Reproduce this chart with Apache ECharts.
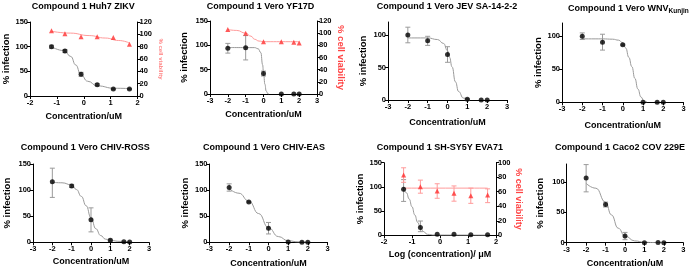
<!DOCTYPE html>
<html><head><meta charset="utf-8">
<script src="https://cdn.jsdelivr.net/npm/echarts@6/dist/echarts.min.js"></script>
<style>html,body{margin:0;padding:0;background:#fff}#c{width:696px;height:269px}</style>
</head><body><div id="c"></div>
<script>
// ---------------- DATA ----------------
const titles = ['Compound 1 Huh7 ZIKV', 'Compound 1 Vero YF17D', 'Compound 1 Vero JEV SA-14-2-2',
  'Compound 1 Vero WNV{s|Kunjin}', 'Compound 1 Vero CHIV-ROSS', 'Compound 1 Vero CHIV-EAS',
  'Compound 1 SH-SY5Y EVA71', 'Compound 1 Caco2 COV 229E'];
const xNames = ['Concentration/uM', 'Concentration/uM', 'Concentration/uM', 'Concentration/uM',
  'Concentration/uM', 'Concentration/uM', 'Log (concentration)/ \u03bcM', 'Concentration/uM'];
const yName = '% infection';
const rightName = '% cell viability';
const leftTicks150 = [0, 50, 100, 150];
const leftTicks100 = [0, 50, 100];

// log10 concentrations
const concA = [-1.2, -0.7, -0.1, 0.5, 1.1, 1.7];
const concB = [-2, -1, 0, 1, 1.7, 2];
const concC = [-1.3, -0.7, -0.1, 0.5, 1.1, 1.7];

// Panel 1 Huh7 ZIKV
const p1Inf = [100, 91, 44, 23, 14, 14];
const p1InfLo = [97, 88, 40, 21, 13, 13];
const p1InfHi = [103, 94, 48, 25, 15, 15];
const p1InfFit = [[-1.2, 100], [-0.73, 92], [-0.48, 80], [-0.3, 63], [-0.11, 44], [0.14, 30], [0.51, 20.5], [1.13, 15.7], [1.75, 15]];
const p1Via = [106, 101, 96, 96, 95, 84];
const p1ViaFit = [[-1.2, 105], [-0.5, 102], [0.2, 98], [0.8, 94], [1.3, 90], [1.7, 86]];

// Panel 2 Vero YF17D
const p2Inf = [94, 95, 42, 0, 0, 0];
const p2InfLo = [84, 70, 37, null, null, null];
const p2InfHi = [104, 120, 47, null, null, null];
const p2InfFit = [[-2, 95.5], [-0.5, 95.3], [-0.3, 93], [-0.15, 85], [-0.05, 60], [0, 44], [0.08, 20], [0.15, 6], [0.25, 0.5], [0.3, 0]];
const p2Via = [106, 100, 86, 86, 85, 84];
const p2ViaFit = [[-2, 106], [-1.5, 104.5], [-1, 100], [-0.7, 95], [-0.5, 90], [-0.25, 87], [0, 86], [2, 86]];

// Panel 3 Vero JEV SA-14-2-2
const p3Inf = [100, 91, 70, 1, 0, 0];
const p3InfLo = [88, 84, 58, 0, null, null];
const p3InfHi = [112, 98, 82, 2, null, null];
const p3InfFit = [[-2, 95.5], [-1, 95.5], [-0.5, 93], [-0.2, 87], [0, 76], [0.1, 66], [0.23, 51], [0.4, 28], [0.56, 13], [0.8, 3], [1.1, 0.3]];

// Panel 4 Vero WNV Kunjin
const p4Inf = [100, 91, 87, 0, 0, 0];
const p4InfLo = [95, 79, 86, null, null, null];
const p4InfHi = [105, 103, 88, null, null, null];
const p4InfFit = [[-2, 96], [-1, 96], [-0.5, 95.5], [-0.2, 94], [0, 90], [0.15, 82], [0.3, 68], [0.45, 54], [0.6, 36], [0.75, 20], [0.9, 8], [1.05, 2], [1.2, 0.3]];

// Panel 5 Vero CHIV-ROSS
const p5Inf = [116, 108, 43, 4, 1, 0.5];
const p5InfLo = [86, 105, 20, 2, null, null];
const p5InfHi = [142, 111, 66, 6, null, null];
const p5InfFit = [[-2, 115], [-1.5, 114], [-1, 110], [-0.75, 101], [-0.5, 88], [-0.25, 70], [0, 47], [0.25, 26], [0.5, 13], [0.75, 6], [1, 3.5], [1.5, 1.8], [2, 1.3]];

// Panel 6 Vero CHIV-EAS
const p6Inf = [105, 77, 27, 0.5, 0, 0];
const p6InfLo = [98, 76, 16, null, null, null];
const p6InfHi = [112, 78, 38, null, null, null];
const p6InfFit = [[-2, 103], [-1.5, 94], [-1, 79], [-0.5, 55], [0, 28], [0.5, 11], [1, 3], [1.5, 0.8], [2, 0.2]];

// Panel 7 SH-SY5Y EVA71
const p7Inf = [95, 16, 2, 2, 1, 1];
const p7InfLo = [70, 7.5, null, null, null, null];
const p7InfHi = [115, 29.5, null, null, null, null];
const p7InfFit = [[-1.3, 95], [-1.2, 88], [-1.1, 75], [-1, 59], [-0.9, 42], [-0.8, 27], [-0.7, 16], [-0.6, 8], [-0.45, 2], [-0.2, 0.5], [1.7, 0.3]];
const p7Via = [83, 67, 61, 58, 54.5, 55.5];
const p7ViaLo = [73, 58, 51, 47, 44, 45];
const p7ViaHi = [93, 76, 71, 68, 65, 64];
const p7ViaFit = [[-1.3, 65], [1.7, 65]];

// Panel 8 Caco2 COV 229E
const p8Inf = [107, 63, 11, 0, 0.5, 0];
const p8InfLo = [84, 59, 5, null, null, null];
const p8InfHi = [129, 67, 17, null, null, null];
const p8InfFit = [[-2, 98], [-1.5, 90], [-1, 67], [-0.7, 46], [-0.35, 24], [0, 11], [0.5, 3], [1, 0.8], [1.5, 0.2], [2, 0.1]];

// ---------------- LAYOUT / STYLE ----------------
const FONT = '"Liberation Sans", Arial, sans-serif';
const panels = [
  {conc: concA, inf: p1Inf, lo: p1InfLo, hi: p1InfHi, fit: p1InfFit, via: p1Via, viaFit: p1ViaFit,
   grid: [30, 22, 107.5, 74], x: [-2, 2], yMax: 150, rMax: 120, t: [31.7, 2.5], xg: 16, yg: 19, rg: 20, rSize: 6, rColor: 'rgba(255,90,90,0.75)'},
  {conc: concB, inf: p2Inf, lo: p2InfLo, hi: p2InfHi, fit: p2InfFit, via: p2Via, viaFit: p2ViaFit,
   grid: [210, 21, 107, 73], x: [-3, 3], yMax: 150, rMax: 120, t: [206.7, 2.5], xg: 16.5, yg: 21, rg: 17, rSize: 9.5, rColor: '#ff4444'},
  {conc: concB, inf: p3Inf, lo: p3InfLo, hi: p3InfHi, fit: p3InfFit,
   grid: [388, 22, 119, 78], x: [-3, 3], yMax: 120, t: [376.7, 2.5], xg: 18.5, yg: 19.5},
  {conc: concB, inf: p4Inf, lo: p4InfLo, hi: p4InfHi, fit: p4InfFit,
   grid: [562, 23, 121.5, 79.3], x: [-3, 3], yMax: 120, t: [568, 2.5], xg: 19, yg: 15.5},
  {conc: concB, inf: p5Inf, lo: p5InfLo, hi: p5InfHi, fit: p5InfFit,
   grid: [33, 164, 116, 78.3], x: [-3, 3], yMax: 150, t: [20.7, 143], xg: 15, yg: 21},
  {conc: concB, inf: p6Inf, lo: p6InfLo, hi: p6InfHi, fit: p6InfFit,
   grid: [209.5, 164, 118, 78.3], x: [-3, 3], yMax: 150, t: [203, 143], xg: 16.5, yg: 19.5},
  {conc: concC, inf: p7Inf, lo: p7InfLo, hi: p7InfHi, fit: p7InfFit, via: p7Via, viaLo: p7ViaLo, viaHi: p7ViaHi, viaFit: p7ViaFit,
   grid: [384, 162.7, 112, 72.6], x: [-2, 2], yMax: 150, rMax: 100, t: [376.7, 143], xg: 15, yg: 17.5, rg: 18, rSize: 9, rColor: '#ff4444'},
  {conc: concB, inf: p8Inf, lo: p8InfLo, hi: p8InfHi, fit: p8InfFit,
   grid: [566.7, 164, 116.6, 78.7], x: [-3, 3], yMax: 130, t: [555, 143], xg: 16, yg: 21.5}
];

const RED = '#ff2f2f', RED_LINE = '#ff9a9a', GREY = '#9a9a9a';

function errSeries(xs, lo, hi, xi, yi, color) {
  const data = [];
  xs.forEach((x, i) => { if (lo[i] != null && hi[i] != null) data.push([x, lo[i], hi[i]]); });
  return {
    type: 'custom', coordinateSystem: 'cartesian2d', xAxisIndex: xi, yAxisIndex: yi, z: 2, silent: true,
    encode: {x: 0, y: [1, 2]}, data,
    renderItem: function (params, api) {
      const x = api.value(0);
      const a = api.coord([x, api.value(1)]), b = api.coord([x, api.value(2)]);
      const st = {stroke: color, lineWidth: 1};
      const c = 2.5;
      return {type: 'group', children: [
        {type: 'line', shape: {x1: a[0], y1: a[1], x2: b[0], y2: b[1]}, style: st},
        {type: 'line', shape: {x1: a[0] - c, y1: a[1], x2: a[0] + c, y2: a[1]}, style: st},
        {type: 'line', shape: {x1: b[0] - c, y1: b[1], x2: b[0] + c, y2: b[1]}, style: st}
      ]};
    }
  };
}

const grids = [], xAxes = [], yAxes = [], series = [], titleList = [];
const axisLine = {show: true, onZero: false, lineStyle: {color: '#000', width: 1}};
const axisTick = {show: true, length: 3, lineStyle: {color: '#000', width: 1}};
const tickLabel = {fontSize: 7.5, fontWeight: 'bold', color: '#000', fontFamily: FONT};

panels.forEach((p, i) => {
  grids.push({left: p.grid[0], top: p.grid[1], width: p.grid[2], height: p.grid[3], containLabel: false});
  titleList.push({text: titles[i], left: p.t[0], top: p.t[1], padding: 0, itemGap: 0,
    textStyle: {fontSize: 9, fontWeight: 'bold', color: '#000', fontFamily: FONT,
      rich: {s: {fontSize: 6.5, fontWeight: 'bold', color: '#000', fontFamily: FONT, padding: [5, 0, 0, 0]}}}});
  xAxes.push({type: 'value', gridIndex: i, min: p.x[0], max: p.x[1], interval: 1,
    axisLine, axisTick, splitLine: {show: false},
    axisLabel: Object.assign({margin: 3}, tickLabel),
    name: xNames[i], nameLocation: 'middle', nameGap: p.xg,
    nameTextStyle: {fontSize: 9, fontWeight: 'bold', color: '#000', fontFamily: FONT}});
  const yi = yAxes.length;
  const ticks = p.yMax === 150 ? leftTicks150 : leftTicks100;
  yAxes.push({type: 'value', gridIndex: i, min: 0, max: p.yMax, interval: 50, position: 'left',
    axisLine, splitLine: {show: false},
    axisTick: Object.assign({customValues: ticks}, axisTick),
    axisLabel: Object.assign({margin: 2, customValues: ticks}, tickLabel),
    name: yName, nameLocation: 'middle', nameGap: p.yg,
    nameTextStyle: {fontSize: 9.5, fontWeight: 'bold', color: '#000', fontFamily: FONT}});
  series.push({type: 'line', xAxisIndex: i, yAxisIndex: yi, data: p.fit, showSymbol: false, smooth: 0.5,
    smoothMonotone: 'x', lineStyle: {color: GREY, width: 1}, z: 1, silent: true});
  series.push(errSeries(p.conc, p.lo, p.hi, i, yi, GREY));
  series.push({type: 'scatter', xAxisIndex: i, yAxisIndex: yi, data: p.conc.map((x, k) => [x, p.inf[k]]),
    symbol: 'circle', symbolSize: 5, itemStyle: {color: '#000'}, z: 4});
  if (p.via) {
    const ri = yAxes.length;
    yAxes.push({type: 'value', gridIndex: i, min: 0, max: p.rMax, interval: 20, position: 'right',
      axisLine, axisTick, splitLine: {show: false},
      axisLabel: Object.assign({margin: 2}, tickLabel),
      name: rightName, nameLocation: 'middle', nameGap: p.rg, nameRotate: -90,
      nameTextStyle: {fontSize: p.rSize, fontWeight: 'bold', color: p.rColor, fontFamily: FONT}});
    series.push({type: 'line', xAxisIndex: i, yAxisIndex: ri, data: p.viaFit, showSymbol: false, smooth: 0.5,
      smoothMonotone: 'x', lineStyle: {color: RED_LINE, width: 1}, z: 1, silent: true});
    if (p.viaLo) series.push(errSeries(p.conc, p.viaLo, p.viaHi, i, ri, RED_LINE));
    series.push({type: 'scatter', xAxisIndex: i, yAxisIndex: ri, data: p.conc.map((x, k) => [x, p.via[k]]),
      symbol: 'triangle', symbolSize: 5, itemStyle: {color: RED}, z: 3});
  }
});

const chart = echarts.init(document.getElementById('c'), null, {renderer: 'canvas'});
chart.setOption({
  animation: false,
  backgroundColor: '#fff',
  title: titleList,
  grid: grids,
  xAxis: xAxes,
  yAxis: yAxes,
  series
});
</script></body></html>
